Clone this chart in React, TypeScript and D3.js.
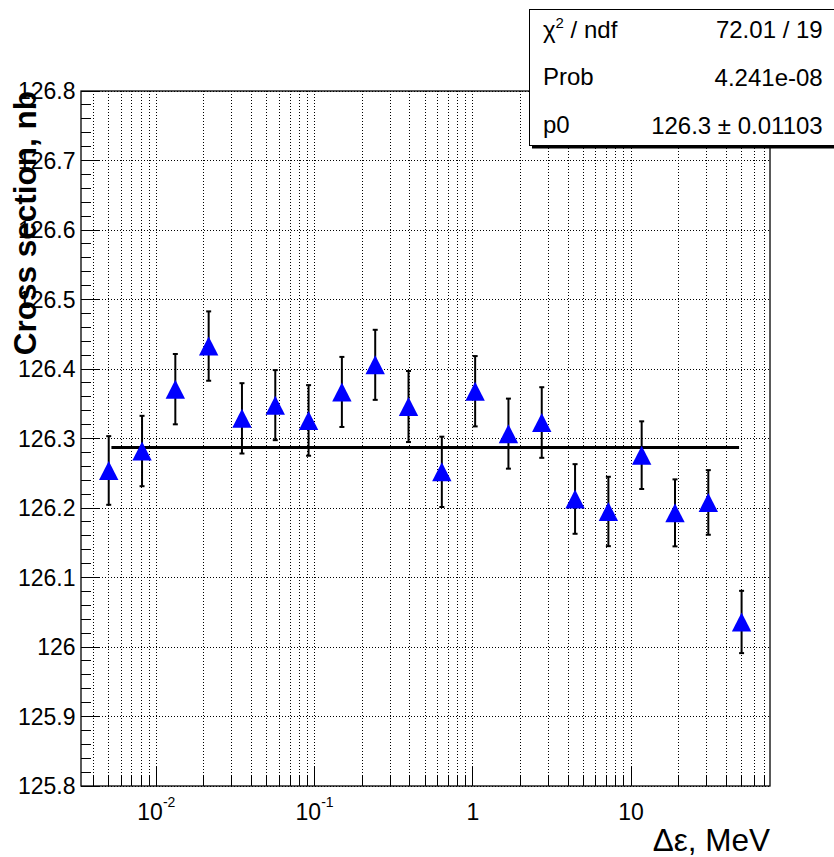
import React from 'react';
import * as d3 from 'd3';

// measured energy window (MeV), cross section (nb) and its error
const xValues = [0.005, 0.00812, 0.01318, 0.02141, 0.03476, 0.05645, 0.09166, 0.1488, 0.2417, 0.3924,
    0.6373, 1.035, 1.68, 2.728, 4.43, 7.194, 11.68, 18.97, 30.8, 50.0];
const yValues = [126.254, 126.282, 126.371, 126.433, 126.329, 126.348, 126.326, 126.367, 126.406, 126.346,
    126.252, 126.368, 126.307, 126.323, 126.213, 126.195, 126.276, 126.193, 126.208, 126.036];
const yErrors = [0.0494, 0.0506, 0.0506, 0.0499, 0.0506, 0.0504, 0.0508, 0.0504, 0.0504, 0.0511,
    0.0506, 0.0506, 0.0504, 0.0508, 0.0501, 0.0499, 0.0487, 0.0482, 0.0465, 0.0448];

// constant fit
const fitP0 = 126.287;
const fitRange = [0.0052, 48.2];

const yTicks = [125.8, 125.9, 126, 126.1, 126.2, 126.3, 126.4, 126.5, 126.6, 126.7, 126.8];
const yTickLabels = ['125.8', '125.9', '126', '126.1', '126.2', '126.3', '126.4', '126.5', '126.6', '126.7', '126.8'];
const xTicks = [0.01, 0.1, 1, 10];
const xTickBase = ['10', '10', '1', '10'];
const xTickExp = ['-2', '-1', '', ''];

const statNames = ['Prob', 'p0'];
const statValues = ['72.01 / 19', '4.241e-08', '126.3 \u00b1 0.01103'];

const font = '"Liberation Sans", Arial, Helvetica, sans-serif';

const App = () => {
    const width = 834;
    const height = 857;
    const frame = {left: 81, right: 770, top: 91, bottom: 786};

    const xScale = d3.scaleLog()
        .domain([0.00334, 75.6])
        .range([frame.left, frame.right]);

    const yScale = d3.scaleLinear()
        .domain([125.8, 126.8])
        .range([frame.bottom, frame.top]);

    // all log ticks (1..9 x decade) inside the frame
    const xMinor = [];
    for (let d = -3; d <= 1; d++) {
        for (let m = 1; m <= 9; m++) {
            const v = m * Math.pow(10, d);
            if (v >= 0.00334 && v <= 75.6) xMinor.push(v);
        }
    }
    const yMinor = d3.range(0, 51).map(i => 125.8 + i * 0.02);

    const tri = (cx, cy) => `M${cx},${cy - 9.5} L${cx + 9.7},${cy + 9.5} L${cx - 9.7},${cy + 9.5} Z`;

    return (
        <svg width={width} height={height} style={{position: 'absolute', left: 0, top: 0, background: '#fff'}}
            fontFamily={font}>
            <rect x={0} y={0} width={width} height={height} fill='#fff'/>

            {/* grid */}
            <g stroke='#000' strokeWidth={1} strokeDasharray='1 2' shapeRendering='crispEdges'>
                {xMinor.map((v, i) => (
                    <line key={'gx' + i} x1={xScale(v)} x2={xScale(v)} y1={frame.top} y2={frame.bottom}/>
                ))}
                {yTicks.map((v, i) => (
                    <line key={'gy' + i} x1={frame.left} x2={frame.right} y1={yScale(v)} y2={yScale(v)}/>
                ))}
            </g>

            {/* ticks */}
            <g stroke='#000' strokeWidth={1} shapeRendering='crispEdges'>
                {yMinor.map((v, i) => (
                    <line key={'ty' + i} x1={frame.left} x2={frame.left + (i % 5 === 0 ? 19 : 10)}
                        y1={yScale(v)} y2={yScale(v)}/>
                ))}
                {xMinor.map((v, i) => {
                    const major = xTicks.some(t => Math.abs(t - v) / t < 1e-6);
                    return <line key={'tx' + i} x1={xScale(v)} x2={xScale(v)}
                        y1={frame.bottom} y2={frame.bottom - (major ? 20 : 10)}/>;
                })}
            </g>

            {/* frame */}
            <rect x={frame.left} y={frame.top} width={frame.right - frame.left} height={frame.bottom - frame.top}
                fill='none' stroke='#000' strokeWidth={1.3}/>

            {/* y tick labels */}
            {yTicks.map((v, i) => (
                <text key={'ly' + i} x={75.5} y={yScale(v)} dy='0.35em' textAnchor='end' fontSize={23}>
                    {yTickLabels[i]}
                </text>
            ))}

            {/* x tick labels */}
            {xTicks.map((v, i) => (
                <text key={'lx' + i} x={xScale(v)} y={820} textAnchor='middle' fontSize={23}>
                    {xTickBase[i]}
                    {xTickExp[i] && <tspan fontSize={14} dy={-13}>{xTickExp[i]}</tspan>}
                </text>
            ))}

            {/* fit */}
            <line x1={xScale(fitRange[0])} x2={xScale(fitRange[1])} y1={yScale(fitP0)} y2={yScale(fitP0)}
                stroke='#000' strokeWidth={3}/>

            {/* error bars */}
            <g stroke='#000' strokeWidth={2}>
                {xValues.map((x, i) => {
                    const cx = xScale(x);
                    const y0 = yScale(yValues[i] - yErrors[i]);
                    const y1 = yScale(yValues[i] + yErrors[i]);
                    return (
                        <g key={'e' + i}>
                            <line x1={cx} x2={cx} y1={y0} y2={y1}/>
                            <line x1={cx - 2.5} x2={cx + 2.5} y1={y0} y2={y0}/>
                            <line x1={cx - 2.5} x2={cx + 2.5} y1={y1} y2={y1}/>
                        </g>
                    );
                })}
            </g>

            {/* markers */}
            {xValues.map((x, i) => (
                <path key={'m' + i} d={tri(xScale(x), yScale(yValues[i]))} fill='#0000ff'/>
            ))}

            {/* axis titles */}
            <text x={frame.right} y={851} textAnchor='end' fontSize={31.5}>{'\u0394\u03b5, MeV'}</text>
            <text transform={`translate(36, ${frame.top}) rotate(-90)`} textAnchor='end' fontSize={31.5}
                fontWeight='bold'>Cross section, nb</text>

            {/* stats box */}
            <rect x={532} y={145.5} width={310} height={3} fill='#000'/>
            <rect x={529.5} y={9.5} width={320} height={136} fill='#fff' stroke='#000' strokeWidth={1}/>
            <text x={543} y={37.5} fontSize={24}>
                {'\u03c7'}<tspan fontSize={15} dy={-10}>2</tspan><tspan dy={10}>{' / ndf'}</tspan>
            </text>
            {statNames.map((s, i) => (
                <text key={'sn' + i} x={543} y={85 + i * 48} fontSize={24}>{s}</text>
            ))}
            {statValues.map((s, i) => (
                <text key={'sv' + i} x={822.7} y={37.5 + i * 48} textAnchor='end' fontSize={24}>{s}</text>
            ))}
        </svg>
    );
};

export default App;
